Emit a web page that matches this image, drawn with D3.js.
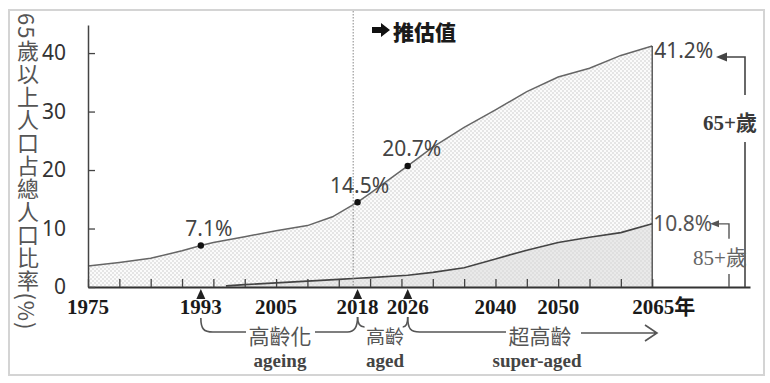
<!DOCTYPE html>
<head>
    <meta charset='utf-8'>
    <title>65+ population share</title>
    <script src='https://d3js.org/d3.v7.min.js'></script>
</head>
<style>
body {
  margin: 0;
  background: #fff;
  font-family: 'Noto Sans', 'Noto Sans CJK TC', sans-serif;
}
</style>
<body>
    <svg></svg>
</body>

<script>
    // 65+ share of total population (%)
    var years65 = [1975, 1980, 1985, 1990, 1993, 1995, 2000, 2005, 2010, 2014, 2018, 2020, 2026, 2030, 2035, 2040, 2045, 2050, 2055, 2060, 2065];
    var vals65  = [3.6, 4.2, 4.9, 6.2, 7.1, 7.6, 8.6, 9.6, 10.5, 12.0, 14.5, 16.0, 20.7, 23.9, 27.3, 30.3, 33.4, 35.9, 37.4, 39.6, 41.2];
    // 85+ share of total population (%)
    var years85 = [1997, 2000, 2005, 2010, 2015, 2018, 2020, 2026, 2030, 2035, 2040, 2045, 2050, 2055, 2060, 2065];
    var vals85  = [0.2, 0.4, 0.7, 1.0, 1.3, 1.5, 1.6, 2.0, 2.5, 3.3, 4.8, 6.3, 7.6, 8.5, 9.3, 10.8];
    // labelled points
    var markYears = [1993, 2018, 2026];
    var markVals = [7.1, 14.5, 20.7];
    var markText = ['7.1%', '14.5%', '20.7%'];
    // axis ticks and labels
    var yTicks = [0, 10, 20, 30, 40];
    var xTicks = d3.range(1975, 2066, 5);
    var xLabels = ['1975', '1993', '2005', '2018', '2026', '2040', '2050', '2065'];
    var estimateYear = 2017.3;

    var vWidth = 770;
    var vHeight = 383;

    var svg = d3.select('svg')
        .attr('width', vWidth)
        .attr('height', vHeight);

    var x = d3.scaleLinear().domain([1975, 2080.6]).range([88, 750]);
    var y = d3.scaleLinear().domain([0, 44.8]).range([287, 25]);

    // dotted fills
    var defs = svg.append('defs');
    var p1 = defs.append('pattern').attr('id', 'dots1').attr('patternUnits', 'userSpaceOnUse')
        .attr('width', 4).attr('height', 4);
    p1.append('rect').attr('width', 4).attr('height', 4).attr('fill', '#fbfbfb');
    p1.append('circle').attr('cx', 1).attr('cy', 1).attr('r', 0.75).attr('fill', '#c4c4c4');
    p1.append('circle').attr('cx', 3).attr('cy', 3).attr('r', 0.75).attr('fill', '#c4c4c4');
    var p2 = defs.append('pattern').attr('id', 'dots2').attr('patternUnits', 'userSpaceOnUse')
        .attr('width', 4).attr('height', 4);
    p2.append('rect').attr('width', 4).attr('height', 4).attr('fill', '#e9e9e9');
    p2.append('circle').attr('cx', 1).attr('cy', 1).attr('r', 0.75).attr('fill', '#d0d0d0');
    p2.append('circle').attr('cx', 3).attr('cy', 3).attr('r', 0.75).attr('fill', '#d0d0d0');

    // outer frame
    svg.append('rect')
        .attr('x', 9).attr('y', 10).attr('width', 755).attr('height', 365)
        .attr('fill', 'none').attr('stroke', '#d4d4d4').attr('stroke-width', 2);

    var d65 = years65.map(function(yr, i) { return [yr, vals65[i]]; });
    var d85 = years85.map(function(yr, i) { return [yr, vals85[i]]; });

    var area = d3.area()
        .x(function(d) { return x(d[0]); })
        .y0(y(0))
        .y1(function(d) { return y(d[1]); });
    var line = d3.line()
        .x(function(d) { return x(d[0]); })
        .y(function(d) { return y(d[1]); });

    svg.append('path').attr('d', area(d65)).attr('fill', 'url(#dots1)');
    svg.append('path').attr('d', area(d85)).attr('fill', 'url(#dots2)');
    svg.append('path').attr('d', line(d65)).attr('fill', 'none').attr('stroke', '#666').attr('stroke-width', 1.5);
    svg.append('path').attr('d', line(d85)).attr('fill', 'none').attr('stroke', '#444').attr('stroke-width', 1.6);

    // right edge of the series
    svg.append('line')
        .attr('x1', x(2065)).attr('x2', x(2065))
        .attr('y1', y(vals65[vals65.length - 1])).attr('y2', y(0))
        .attr('stroke', '#444').attr('stroke-width', 1.3);

    // estimate divider
    svg.append('line')
        .attr('x1', x(estimateYear)).attr('x2', x(estimateYear))
        .attr('y1', 11).attr('y2', y(0))
        .attr('stroke', '#888').attr('stroke-width', 1).attr('stroke-dasharray', '1.5,1.5');

    // axes
    var gx = svg.append('g')
        .attr('transform', 'translate(0,' + y(0) + ')')
        .call(d3.axisBottom(x).tickValues(xTicks).tickSize(-8).tickSizeOuter(0).tickFormat(''));
    gx.select('.domain').attr('stroke', '#333').attr('stroke-width', 2.2);
    gx.selectAll('.tick line').attr('stroke', '#444').attr('stroke-width', 1.3);

    var gy = svg.append('g')
        .attr('transform', 'translate(' + x(1975) + ',0)')
        .call(d3.axisLeft(y).tickValues(yTicks).tickSize(-7).tickSizeOuter(0).tickPadding(22));
    gy.select('.domain').attr('stroke', '#444').attr('stroke-width', 1.5);
    gy.selectAll('.tick line').attr('stroke', '#444').attr('stroke-width', 1.3);
    gy.selectAll('.tick text')
        .attr('font-family', "'Noto Sans', sans-serif").attr('font-size', 21).attr('fill', '#333');

    // x labels
    svg.append('g').selectAll('text').data(xLabels).enter().append('text')
        .attr('x', function(d) { return d === '2065' ? x(+d) - 20 : x(+d); })
        .attr('y', 314)
        .attr('text-anchor', function(d) { return d === '2065' ? 'start' : 'middle'; })
        .attr('font-family', "'Liberation Serif', 'Noto Sans CJK TC', serif")
        .attr('font-weight', 'bold').attr('font-size', 21).attr('fill', '#1a1a1a')
        .text(function(d) { return d === '2065' ? '2065年' : d; });

    // y title (vertical writing)
    svg.append('text')
        .attr('x', 28).attr('y', 13)
        .style('writing-mode', 'vertical-rl')
        .style('text-orientation', 'mixed')
        .attr('font-family', "'Noto Sans CJK TC', sans-serif")
        .attr('font-size', 22).attr('fill', '#555')
        .attr('letter-spacing', 1)
        .text('65歲以上人口占總人口比率(%)');

    // marked points
    markYears.forEach(function(yr, i) {
        svg.append('circle').attr('cx', x(yr)).attr('cy', y(markVals[i])).attr('r', 3.2).attr('fill', '#111');
        svg.append('polygon')
            .attr('points', [[x(yr), y(0) + 2], [x(yr) - 4.5, y(0) + 12], [x(yr) + 4.5, y(0) + 12]].join(' '))
            .attr('fill', '#222');
    });
    var labelPos = [[x(1993) + 8, y(7.1) - 9], [x(2018) + 2, y(14.5) - 9], [x(2026) + 4, y(20.7) - 10]];
    svg.append('g').selectAll('text').data(markText).enter().append('text')
        .attr('x', function(d, i) { return labelPos[i][0]; })
        .attr('y', function(d, i) { return labelPos[i][1]; })
        .attr('text-anchor', 'middle')
        .attr('font-size', 21).attr('fill', '#444')
        .text(function(d) { return d; });

    // end values
    svg.append('text').attr('x', x(2065) + 2).attr('y', y(41.2) + 12)
        .attr('font-size', 21).attr('fill', '#444').text('41.2%');
    svg.append('text').attr('x', x(2065) + 1).attr('y', y(10.8) + 7)
        .attr('font-size', 21).attr('fill', '#555').text('10.8%');

    // "estimate" tag
    svg.append('path')
        .attr('d', 'M372,27H381V23L390,30L381,37V33H372Z')
        .attr('fill', '#111');
    svg.append('text').attr('x', 393).attr('y', 40)
        .attr('font-family', "'Noto Sans CJK TC', sans-serif")
        .attr('font-weight', 900).attr('font-size', 21).attr('fill', '#1a1a1a')
        .text('推估值');

    // right-hand brackets
    var ink = '#444';
    var a65 = y(41.2) + 11, a85 = y(10.8);
    svg.append('path').attr('d', 'M745,' + (a65 + 38) + 'V' + a65 + 'H726')
        .attr('fill', 'none').attr('stroke', ink).attr('stroke-width', 1.6);
    svg.append('path').attr('d', 'M716,' + a65 + 'L727,' + (a65 - 4.5) + 'V' + (a65 + 4.5) + 'Z').attr('fill', ink);
    svg.append('path').attr('d', 'M745,142V' + y(0))
        .attr('fill', 'none').attr('stroke', ink).attr('stroke-width', 1.6);
    svg.append('text').attr('x', 730).attr('y', 130).attr('text-anchor', 'middle')
        .attr('font-family', "'Liberation Serif', 'Noto Sans CJK TC', serif")
        .attr('font-weight', 'bold').attr('font-size', 21).attr('fill', '#3a3a3a').text('65+歲');

    svg.append('path').attr('d', 'M729,' + (a85 + 15) + 'V' + a85 + 'H718')
        .attr('fill', 'none').attr('stroke', '#555').attr('stroke-width', 1.4);
    svg.append('path').attr('d', 'M710,' + a85 + 'L719,' + (a85 - 3.5) + 'V' + (a85 + 3.5) + 'Z').attr('fill', '#555');
    svg.append('path').attr('d', 'M729,274V' + y(0))
        .attr('fill', 'none').attr('stroke', '#555').attr('stroke-width', 1.4);
    svg.append('text').attr('x', 720).attr('y', 265).attr('text-anchor', 'middle')
        .attr('font-family', "'Liberation Serif', 'Noto Sans CJK TC', serif")
        .attr('font-size', 21).attr('fill', '#666').text('85+歲');

    // stage brackets under the axis
    var x93 = x(1993), x18 = x(2018), x26 = x(2026);
    var br = svg.append('g').attr('fill', 'none').attr('stroke', '#555').attr('stroke-width', 1.6);
    br.append('path').attr('d', 'M' + x93 + ',318C' + x93 + ',329 ' + (x93 + 3) + ',332 ' + (x93 + 12) + ',332H246');
    br.append('path').attr('d', 'M315,332H' + (x18 - 10) + 'C' + (x18 - 3) + ',332 ' + x18 + ',326 ' + x18 + ',317');
    br.append('path').attr('d', 'M' + x18 + ',317C' + x18 + ',324 ' + (x18 + 2) + ',327 ' + (x18 + 7) + ',327');
    br.append('path').attr('d', 'M' + (x26 - 5) + ',327C' + (x26 - 1) + ',327 ' + x26 + ',323 ' + x26 + ',317');
    br.append('path').attr('d', 'M' + x26 + ',317C' + x26 + ',329 ' + (x26 + 3) + ',332 ' + (x26 + 12) + ',332H506');
    br.append('path').attr('d', 'M581,333H656M645,325L657,333L645,341');

    var stages = [
        { zh: '高齡化', en: 'ageing', cx: 280, size: 21 },
        { zh: '高齡', en: 'aged', cx: 385, size: 19 },
        { zh: '超高齡', en: 'super-aged', cx: 540, size: 21 }
    ];
    svg.append('g').selectAll('text').data(stages).enter().append('text')
        .attr('x', function(d) { return d.cx; }).attr('y', 344)
        .attr('text-anchor', 'middle')
        .attr('font-family', "'Noto Sans CJK TC', sans-serif")
        .attr('font-size', function(d) { return d.size; }).attr('fill', '#555')
        .text(function(d) { return d.zh; });
    svg.append('g').selectAll('text').data(stages).enter().append('text')
        .attr('x', function(d) { return d.cx - (d.en === 'super-aged' ? 3 : 0); }).attr('y', 367)
        .attr('text-anchor', 'middle')
        .attr('font-family', "'Liberation Serif', serif")
        .attr('font-weight', 'bold').attr('font-size', 19).attr('fill', '#444')
        .text(function(d) { return d.en; });
</script>
